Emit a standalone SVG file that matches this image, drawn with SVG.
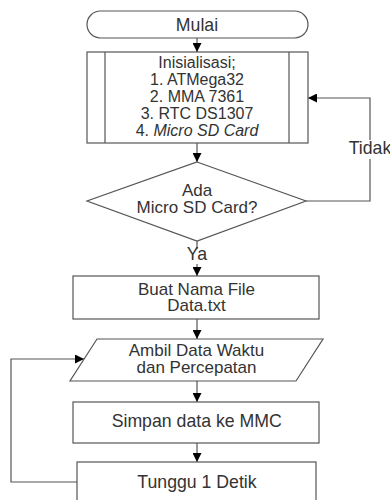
<svg xmlns="http://www.w3.org/2000/svg" width="390" height="500" viewBox="0 0 390 500">
<style>
.shape{fill:#fff;stroke:#555;stroke-width:1.2}
.conn{fill:none;stroke:#555;stroke-width:1.2}
text{font-family:"Liberation Sans",Arial,sans-serif;font-size:17.7px;fill:#333;text-anchor:middle}
.small{font-size:16px}
.two{font-size:17px}
</style>
<defs>
<marker id="arr" viewBox="0 0 10 10" refX="10" refY="5" markerWidth="9" markerHeight="9" markerUnits="userSpaceOnUse" orient="auto">
<path d="M0,0 L10,5 L0,10 z" fill="#000"/>
</marker>
</defs>
<rect width="390" height="500" fill="#fff"/>
<g id="connectors">
<path class="conn" d="M197,38 V52" marker-end="url(#arr)"/>
<path class="conn" d="M197,143 V162" marker-end="url(#arr)"/>
<path class="conn" d="M306,201 H370 V159"/>
<path class="conn" d="M370,140 V98 H308" marker-end="url(#arr)"/>
<path class="conn" d="M197,241 V249"/>
<path class="conn" d="M197,264 V276" marker-end="url(#arr)"/>
<path class="conn" d="M197,319 V339" marker-end="url(#arr)"/>
<path class="conn" d="M197,381 V402" marker-end="url(#arr)"/>
<path class="conn" d="M197,443 V462" marker-end="url(#arr)"/>
<path class="conn" d="M77,482 H11 V359 H84" marker-end="url(#arr)"/>
<text x="370" y="154">Tidak</text>
<text x="197" y="260">Ya</text>
</g>
<g id="mulai">
<rect class="shape" x="87" y="11" width="221" height="27" rx="13.5"/>
<text x="197" y="30.7">Mulai</text>
</g>
<g id="inisialisasi">
<rect class="shape" x="87" y="52" width="221" height="91"/>
<path class="conn" d="M105,52 V143 M289,52 V143"/>
<text class="small" x="197" y="68">Inisialisasi;</text>
<text class="small" x="197" y="85">1. ATMega32</text>
<text class="small" x="197" y="102">2. MMA 7361</text>
<text class="small" x="197" y="119">3. RTC DS1307</text>
<text class="small" x="197" y="136">4. <tspan font-style="italic">Micro SD Card</tspan></text>
</g>
<g id="ada-sd">
<polygon class="shape" points="197,162 306,201 197,241 87,201"/>
<text class="two" x="197" y="196.3">Ada</text>
<text class="two" x="197" y="213.3">Micro SD Card?</text>
</g>
<g id="buat-file">
<rect class="shape" x="73" y="276" width="246" height="43"/>
<text class="two" x="196.5" y="294.6">Buat Nama File</text>
<text class="two" x="196.5" y="311.4">Data.txt</text>
</g>
<g id="ambil-data">
<polygon class="shape" points="97,339 323,339 296,381 70,381"/>
<text class="two" x="196.5" y="356.3">Ambil Data Waktu</text>
<text class="two" x="196.5" y="372.7">dan Percepatan</text>
</g>
<g id="simpan">
<rect class="shape" x="73" y="402" width="246" height="41"/>
<text x="196.7" y="426.7">Simpan data ke MMC</text>
</g>
<g id="tunggu">
<rect class="shape" x="77" y="462" width="239" height="50"/>
<text x="197" y="488">Tunggu 1 Detik</text>
</g>
</svg>
